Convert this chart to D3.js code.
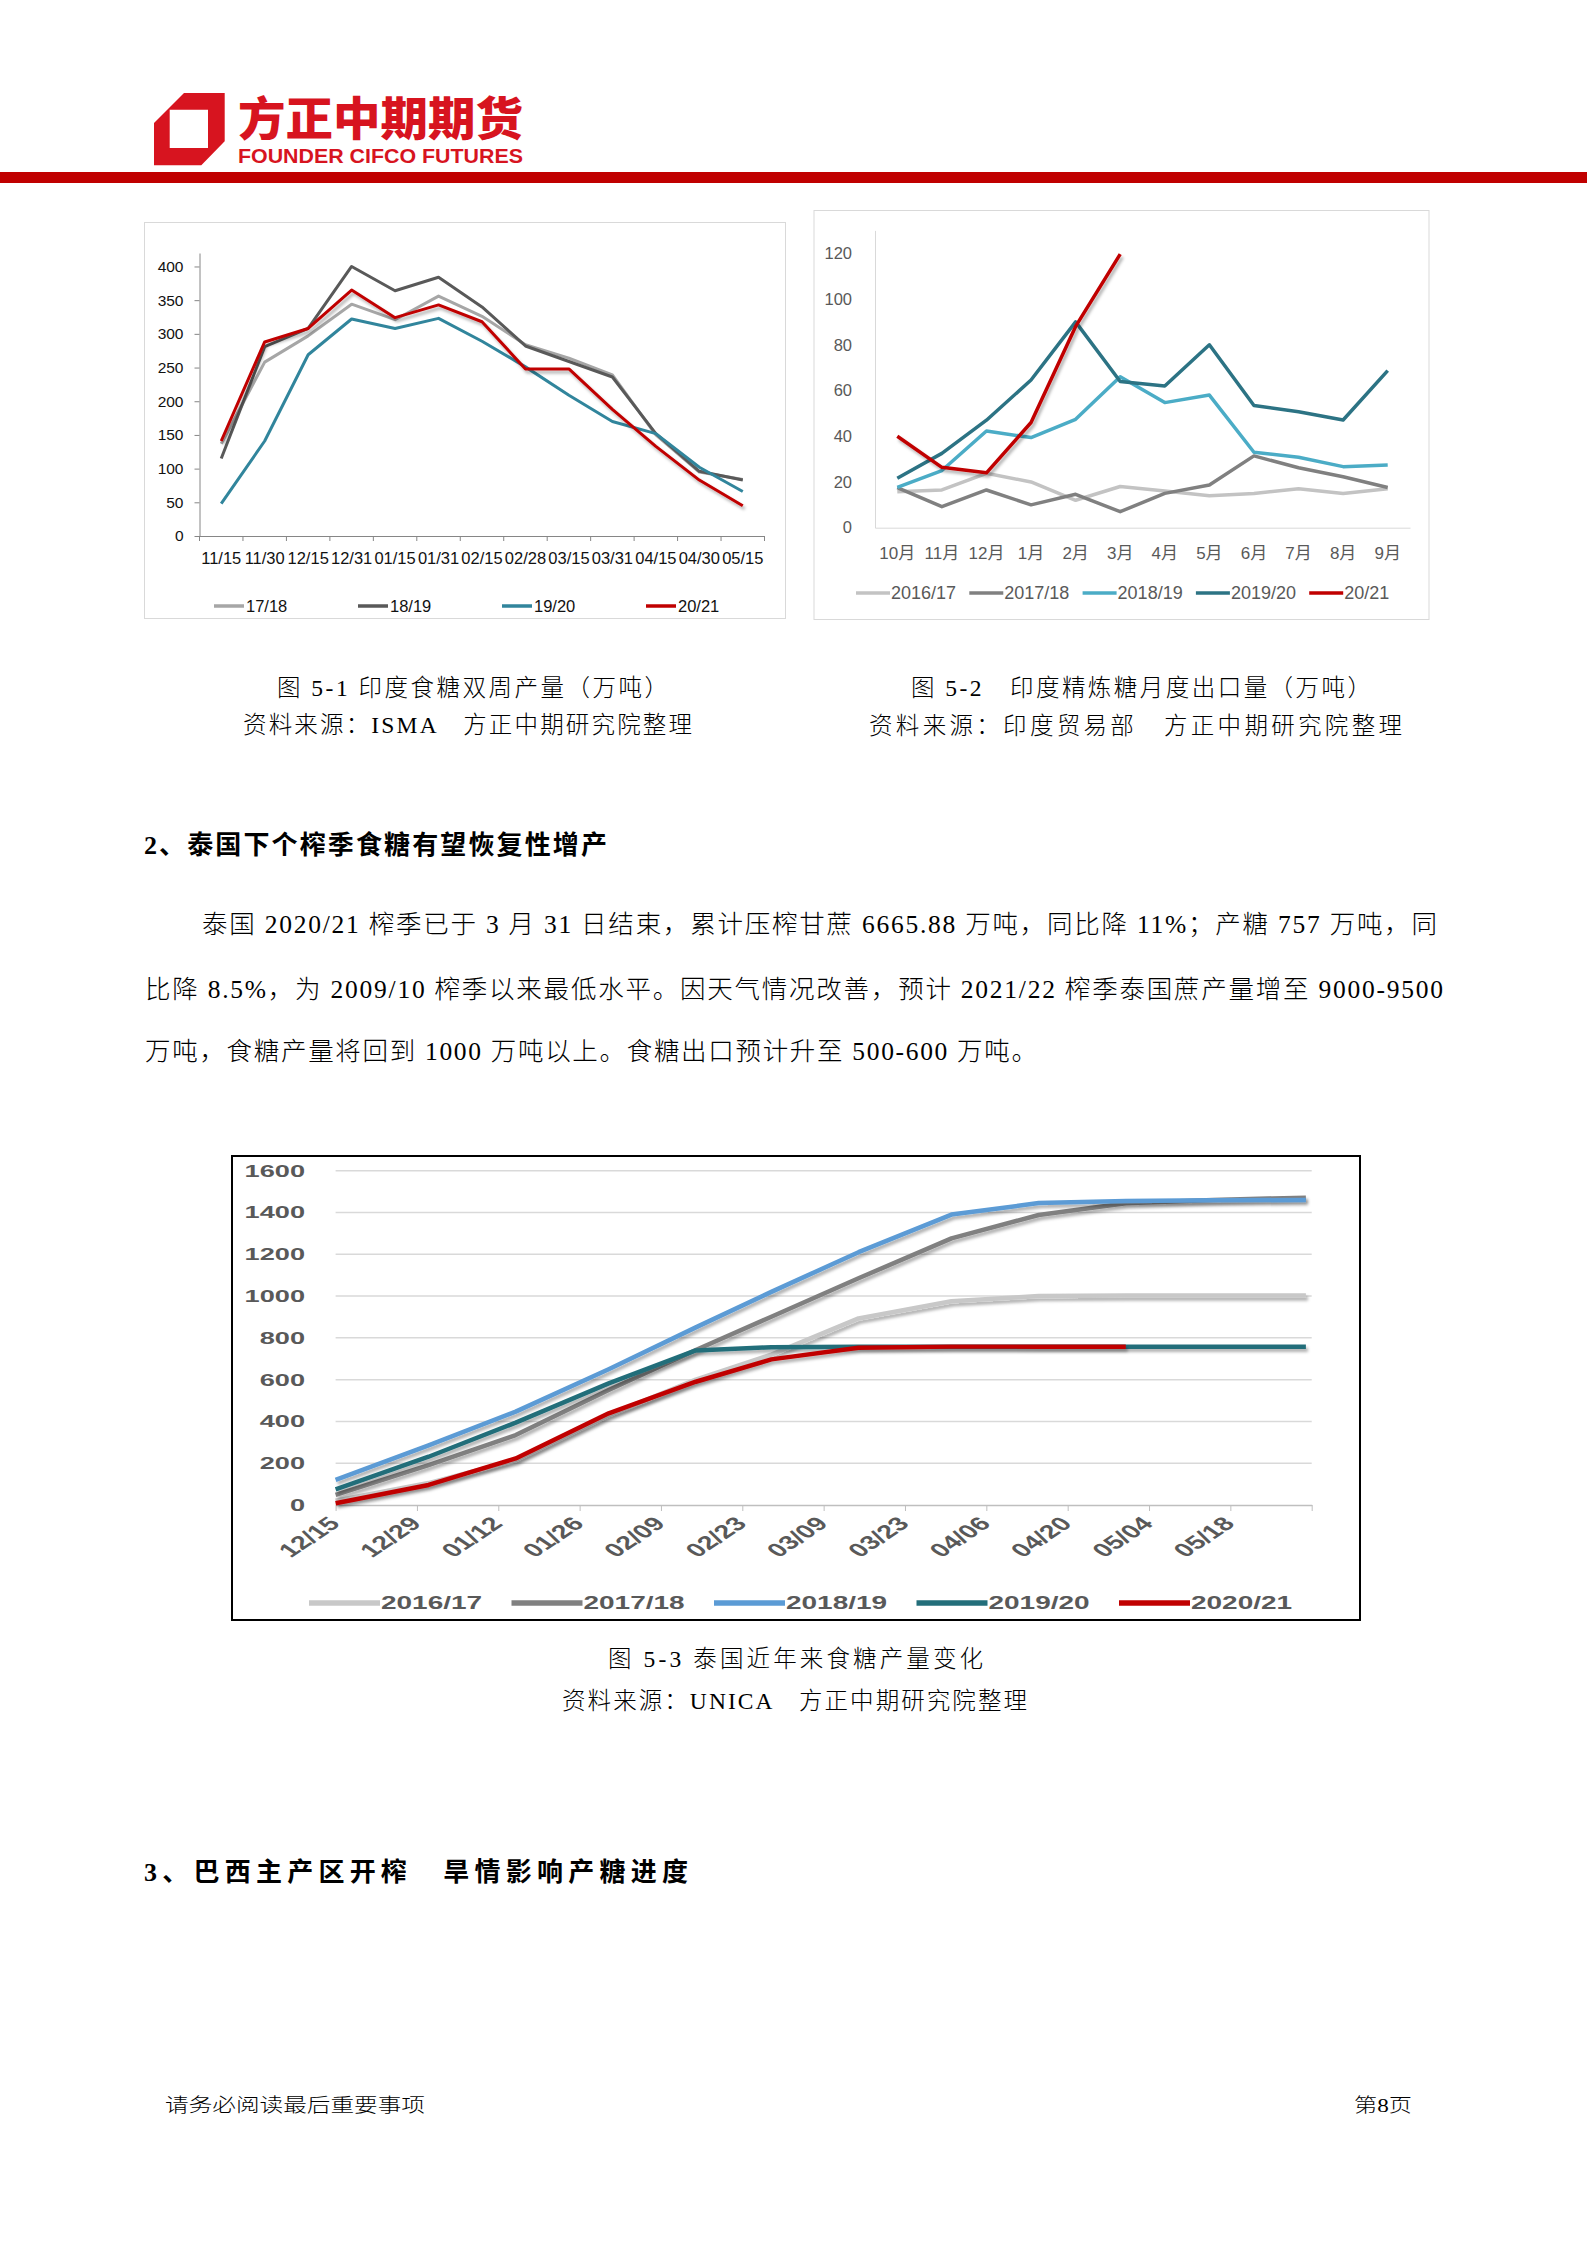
<!DOCTYPE html>
<html><head><meta charset="utf-8">
<script src="https://cdn.jsdelivr.net/npm/d3@7"></script>
<style>
html,body{margin:0;padding:0;background:#fff;}
svg{display:block;}
</style></head><body>
<script>
// ---------------- DATA ----------------
// Chart 5-1 India bi-weekly sugar production (10k t)
const indiaPeriods = ["11/15","11/30","12/15","12/31","01/15","01/31","02/15","02/28","03/15","03/31","04/15","04/30","05/15"];
const india1718 = [137,258,297,344,321,356,326,284,264,239,150,95,84];
const india1819 = [115,281,308,400,364,384,340,282,259,236,152,96,83];
const india1920 = [48,141,269,322,308,323,289,251,209,170,152,102,66];
const india2021 = [141,288,308,365,324,343,318,248,248,188,133,83,45];
const indiaNames = ["17/18","18/19","19/20","20/21"];
const indiaTicks = [0,50,100,150,200,250,300,350,400];

// Chart 5-2 India refined sugar monthly exports (10k t)
const months = ["10月","11月","12月","1月","2月","3月","4月","5月","6月","7月","8月","9月"];
const exp1617 = [15.7,16.5,23.8,20,12,18,16,14,15,17,15,17];
const exp1718 = [17.5,9.2,16.5,10,14.6,7,15,18.7,31.4,26.2,22.3,17.6];
const exp1819 = [17.6,25,42.3,39.4,47.4,66,54.7,58,33,30.8,26.7,27.4];
const exp1920 = [21.6,32.5,47,64.6,90,63.9,62,80,53.4,50.7,47.1,68.7];
const exp2021 = [40,26.4,24,46,88,119.6];
const expNames = ["2016/17","2017/18","2018/19","2019/20","20/21"];
const expTicks = [0,20,40,60,80,100,120];

// Chart 5-3 Thailand cumulative sugar production (10k t)
const thaiDates = ["2020/12/15","2020/12/31","2021/01/15","2021/01/31","2021/02/15","2021/02/28","2021/03/15","2021/03/31","2021/04/15","2021/04/30","2021/05/15","2021/05/31"];
const thai1617 = [20,105,215,430,600,720,893,975,1000,1003,1003,1003];
const thai1718 = [48,191,335,550,742,901,1085,1276,1388,1444,1460,1471];
const thai1819 = [120,285,447,650,850,1020,1210,1390,1445,1455,1458,1460];
const thai1920 = [75,231,394,582,740,755,757,757,757,757,757,757];
const thai2021 = [8,96,223,439,590,697,753,758,758,758];
const thaiNames = ["2016/17","2017/18","2018/19","2019/20","2020/21"];
const thaiTickDates = ["2020/12/15","2020/12/29","2021/01/12","2021/01/26","2021/02/09","2021/02/23","2021/03/09","2021/03/23","2021/04/06","2021/04/20","2021/05/04","2021/05/18","2021/06/01"];
const thaiTickLabels = ["12/15","12/29","01/12","01/26","02/09","02/23","03/09","03/23","04/06","04/20","05/04","05/18",""];
const thaiTicks = [0,200,400,600,800,1000,1200,1400,1600];

// ---------------- PAGE ----------------
const W = 1587, H = 2245;
const CF = '"Liberation Sans", Arial, "Noto Sans CJK SC", sans-serif';
const PF = '"Liberation Serif", "Noto Sans CJK SC", serif';
const svg = d3.select("body").append("svg").attr("width", W).attr("height", H);
svg.append("rect").attr("width", W).attr("height", H).attr("fill", "#fff");
const defs = svg.append("defs");
const f = defs.append("filter").attr("id", "sh").attr("filterUnits", "userSpaceOnUse")
  .attr("x", 0).attr("y", 0).attr("width", W).attr("height", H);
f.append("feDropShadow").attr("dx", 2).attr("dy", 3).attr("stdDeviation", 1.8)
  .attr("flood-color", "#000").attr("flood-opacity", 0.3);

// logo
svg.append("path")
  .attr("d", "M184,93 L224.7,93 L224.7,141.3 L201.3,165.3 L154,165.3 L154,123 Z M169.7,109.7 L169.7,148 L208,148 L208,109.7 Z")
  .attr("fill", "#d7141f").attr("fill-rule", "evenodd");
svg.append("text").text("方正中期期货").attr("x", 238).attr("y", 115)
  .attr("dominant-baseline", "central").attr("font-family", '"Noto Sans CJK SC", sans-serif')
  .attr("font-weight", 900).attr("font-size", 46).attr("fill", "#d7141f")
  .attr("textLength", 285).attr("lengthAdjust", "spacingAndGlyphs");
svg.append("text").text("FOUNDER CIFCO FUTURES").attr("x", 238).attr("y", 156)
  .attr("dominant-baseline", "central").attr("font-family", CF)
  .attr("font-weight", 700).attr("font-size", 20).attr("fill", "#d7141f")
  .attr("textLength", 285).attr("lengthAdjust", "spacingAndGlyphs");
svg.append("rect").attr("x", 0).attr("y", 172).attr("width", W).attr("height", 11).attr("fill", "#c00000");

function pText(str, x, y, size, width, weight, adj, fam) {
  svg.append("text").text(str).attr("x", x).attr("y", y)
    .attr("dominant-baseline", "central").attr("font-family", fam || PF)
    .attr("font-size", size).attr("font-weight", weight || 300).attr("fill", "#000")
    .attr("textLength", width).attr("lengthAdjust", adj || "spacing");
}
pText("图 5-1 印度食糖双周产量（万吨）", 277, 688, 23.5, 391);
pText("资料来源：ISMA　方正中期研究院整理", 243, 725, 23.5, 449);
pText("图 5-2　印度精炼糖月度出口量（万吨）", 911, 688, 23.5, 460);
pText("资料来源：印度贸易部　方正中期研究院整理", 869, 726, 23.5, 533);
pText("2、泰国下个榨季食糖有望恢复性增产", 144, 845, 26, 463, 700);
pText("泰国 2020/21 榨季已于 3 月 31 日结束，累计压榨甘蔗 6665.88 万吨，同比降 11%；产糖 757 万吨，同", 202, 924, 25.5, 1235);
pText("比降 8.5%，为 2009/10 榨季以来最低水平。因天气情况改善，预计 2021/22 榨季泰国蔗产量增至 9000-9500", 145, 989, 25.5, 1298);
pText("万吨，食糖产量将回到 1000 万吨以上。食糖出口预计升至 500-600 万吨。", 145, 1051, 25.5, 892);
pText("图 5-3 泰国近年来食糖产量变化", 608, 1659, 23.5, 375);
pText("资料来源：UNICA　方正中期研究院整理", 562, 1701, 23.5, 465);
pText("3、巴西主产区开榨　旱情影响产糖进度", 144, 1872, 26, 544, 700);
pText("请务必阅读最后重要事项", 165, 2105, 19, 260, 300, "spacingAndGlyphs");
pText("第8页", 1354, 2105, 19, 58, 300, "spacingAndGlyphs");

function styleAxis(g, color, size, fill) {
  g.attr("font-family", CF).attr("font-size", size);
  g.selectAll(".domain").attr("stroke", color).attr("stroke-width", 1);
  g.selectAll(".tick line").attr("stroke", color);
  g.selectAll(".tick text").attr("fill", fill);
}

// ---------------- CHART 5-1 ----------------
{
  const g = svg.append("g");
  g.append("rect").attr("x", 144.5).attr("y", 222.5).attr("width", 641).attr("height", 396)
    .attr("fill", "#fff").attr("stroke", "#d9d9d9");
  const x = d3.scaleBand().domain(indiaPeriods).range([199.5, 764.5]);
  const y = d3.scaleLinear().domain([0, 420]).range([536, 253]);
  const ya = g.append("g").attr("transform", "translate(199.5,0)")
    .call(d3.axisLeft(y).tickValues(indiaTicks).tickSize(5).tickSizeOuter(0).tickPadding(11));
  styleAxis(ya, "#868686", 15.5, "#111");
  const xa = g.append("g").attr("transform", "translate(0,536)")
    .call(d3.axisBottom(x).tickSize(0).tickSizeOuter(0).tickPadding(16));
  styleAxis(xa, "#868686", 16.5, "#111");
  const bounds = indiaPeriods.map(d => x(d)).concat([x.range()[1]]);
  g.selectAll("line.bt").data(bounds).join("line").attr("class", "bt")
    .attr("x1", d => d).attr("x2", d => d).attr("y1", 536).attr("y2", 541).attr("stroke", "#868686");
  const series = [india1718, india1819, india1920, india2021];
  const colors = ["#a6a6a6", "#595959", "#31859c", "#c00000"];
  const line = d3.line().x((d, i) => x(indiaPeriods[i]) + x.bandwidth() / 2).y(d => y(d));
  series.forEach((s, k) => {
    g.append("path").attr("d", line(s)).attr("fill", "none").attr("stroke", colors[k])
      .attr("stroke-width", 3).attr("stroke-linejoin", "round")
      .attr("filter", k === 3 ? "url(#sh)" : null);
  });
  const lg = g.append("g").attr("font-family", CF).attr("font-size", 16.5);
  indiaNames.forEach((n, k) => {
    const lx = 214 + k * 144;
    lg.append("line").attr("x1", lx).attr("x2", lx + 30).attr("y1", 606).attr("y2", 606)
      .attr("stroke", colors[k]).attr("stroke-width", 3.5);
    lg.append("text").text(n).attr("x", lx + 32).attr("y", 606).attr("dy", "0.35em").attr("fill", "#111");
  });
}

// ---------------- CHART 5-2 ----------------
{
  const g = svg.append("g");
  g.append("rect").attr("x", 814).attr("y", 210.5).attr("width", 615).attr("height", 409)
    .attr("fill", "#fff").attr("stroke", "#d9d9d9");
  const x = d3.scaleBand().domain(months).range([875, 1410]);
  const y = d3.scaleLinear().domain([0, 130]).range([527.7, 230.4]);
  const ya = g.append("g").attr("transform", "translate(875,0)")
    .call(d3.axisLeft(y).tickValues(expTicks).tickSize(0).tickSizeOuter(0).tickPadding(23));
  styleAxis(ya, "#d9d9d9", 16.5, "#595959");
  const xa = g.append("g").attr("transform", "translate(0,527.7)")
    .call(d3.axisBottom(x).tickSize(0).tickSizeOuter(0).tickPadding(19));
  styleAxis(xa, "#d9d9d9", 17, "#595959");
  const series = [exp1617, exp1718, exp1819, exp1920, exp2021];
  const colors = ["#c3c3c3", "#808080", "#4bacc6", "#2c7384", "#c00000"];
  const line = d3.line().x((d, i) => x(months[i]) + x.bandwidth() / 2).y(d => y(d));
  series.forEach((s, k) => {
    g.append("path").attr("d", line(s)).attr("fill", "none").attr("stroke", colors[k])
      .attr("stroke-width", 3.5).attr("stroke-linejoin", "round")
      .attr("filter", k === 4 ? "url(#sh)" : null);
  });
  const lg = g.append("g").attr("font-family", CF).attr("font-size", 18);
  expNames.forEach((n, k) => {
    const lx = 856 + k * 113.3;
    lg.append("line").attr("x1", lx).attr("x2", lx + 34).attr("y1", 593).attr("y2", 593)
      .attr("stroke", colors[k]).attr("stroke-width", 3.5);
    lg.append("text").text(n).attr("x", lx + 35).attr("y", 593).attr("dy", "0.35em").attr("fill", "#595959");
  });
}

// ---------------- CHART 5-3 ----------------
{
  const parse = d3.utcParse("%Y/%m/%d");
  const g = svg.append("g");
  g.append("rect").attr("x", 232).attr("y", 1156).attr("width", 1128).attr("height", 464)
    .attr("fill", "#fff").attr("stroke", "#000").attr("stroke-width", 2);
  const tickDates = thaiTickDates.map(parse);
  const x = d3.scaleUtc().domain([tickDates[0], tickDates[tickDates.length - 1]]).range([335.6, 1311.7]);
  const y = d3.scaleLinear().domain([0, 1600]).range([1505, 1170.7]);
  const SX = 1.6;
  g.selectAll("line.grid").data(thaiTicks.filter(v => v > 0)).join("line").attr("class", "grid")
    .attr("x1", x.range()[0]).attr("x2", x.range()[1]).attr("y1", d => y(d)).attr("y2", d => y(d))
    .attr("stroke", "#d9d9d9").attr("stroke-width", 1.5);
  const ya = g.append("g").attr("transform", "translate(335.6,0)")
    .call(d3.axisLeft(y).tickValues(thaiTicks).tickFormat(d3.format("d")).tickSize(0).tickSizeOuter(0).tickPadding(30.6 / SX));
  styleAxis(ya, "none", 17, "#595959");
  ya.select(".domain").remove();
  ya.selectAll(".tick text").attr("font-weight", 700).attr("transform", `scale(${SX},1)`);
  const xa = g.append("g").attr("transform", "translate(0,1505)")
    .call(d3.axisBottom(x).tickValues(tickDates).tickSize(6).tickSizeOuter(0)
      .tickFormat((d, i) => thaiTickLabels[i]));
  styleAxis(xa, "#bfbfbf", 19, "#595959");
  xa.select(".domain").attr("stroke-width", 1.5);
  xa.selectAll(".tick text").attr("font-weight", 700).attr("y", null).attr("dy", "0.35em")
    .attr("text-anchor", "end").attr("transform", "translate(-2,15) scale(1.5,1) rotate(-45)");
  const series = [thai1617, thai1718, thai1819, thai1920, thai2021];
  const colors = ["#c8c8c8", "#808080", "#5b9bd5", "#236e7a", "#c00000"];
  const dates = thaiDates.map(parse);
  const line = d3.line().x((d, i) => x(dates[i])).y(d => y(d));
  series.forEach((s, k) => {
    g.append("path").attr("d", line(s)).attr("fill", "none").attr("stroke", colors[k])
      .attr("stroke-width", 4.5).attr("stroke-linejoin", "round").attr("filter", "url(#sh)");
  });
  const lg = g.append("g").attr("font-family", CF).attr("font-size", 17.5).attr("font-weight", 700);
  thaiNames.forEach((n, k) => {
    const lx = 309 + k * 202.5;
    lg.append("line").attr("x1", lx).attr("x2", lx + 71).attr("y1", 1603).attr("y2", 1603)
      .attr("stroke", colors[k]).attr("stroke-width", 5.5);
    lg.append("text").text(n).attr("transform", `translate(${lx + 72},1603) scale(${SX},1)`)
      .attr("dy", "0.35em").attr("fill", "#595959");
  });
}
</script>
</body></html>
